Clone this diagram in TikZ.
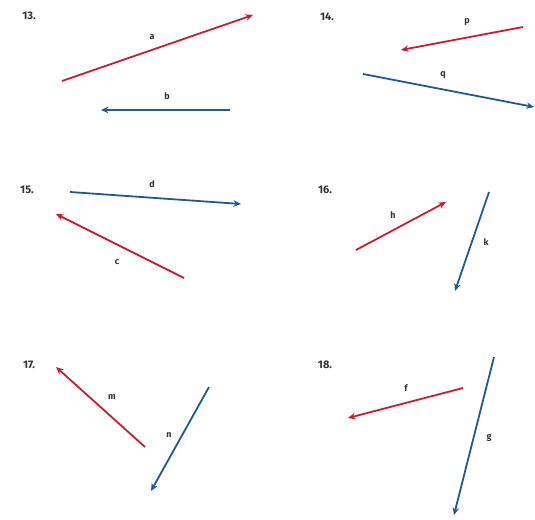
\documentclass[tikz,border=0pt]{standalone}
\usepackage{fontspec}
\setmainfont{Fira Sans}
\usetikzlibrary{arrows.meta}
\definecolor{vred}{RGB}{200,30,50}
\definecolor{vblue}{RGB}{30,90,150}
\tikzset{
  vec/.style={line width=1.8pt,-{Stealth[length=7.5pt,width=6.5pt]}},
  redvec/.style={vec,draw=vred},
  bluevec/.style={vec,draw=vblue},
  num/.style={font=\bfseries\fontsize{11}{11}\selectfont,text=black!80,inner sep=0pt},
  lbl/.style={font=\bfseries\fontsize{9}{9}\selectfont,text=black!80,inner sep=0pt},
}
\begin{document}
\begin{tikzpicture}[x=1pt,y=-1pt]
\useasboundingbox (0,0) rectangle (535,519);
% 13
\node[num] (n13) at (29,16) {13.};
\coordinate (a1) at (62,81); \coordinate (a2) at (253,15);
\draw[redvec] (a1) -- (a2);
\node[lbl] (la) at (152,37) {a};
\coordinate (b1) at (230,110); \coordinate (b2) at (101,110);
\draw[bluevec] (b1) -- (b2);
\node[lbl] (lb) at (167,96) {b};
% 14
\node[num] (n14) at (327,17) {14.};
\coordinate (p1) at (523,27); \coordinate (p2) at (401,50);
\draw[redvec] (p1) -- (p2);
\node[lbl] (lp) at (467,22) {p};
\coordinate (q1) at (363,74); \coordinate (q2) at (534,107);
\draw[bluevec] (q1) -- (q2);
\node[lbl] (lq) at (443,75) {q};
% 15
\node[num] (n15) at (27,190) {15.};
\coordinate (d1) at (70,192); \coordinate (d2) at (241,204);
\draw[bluevec] (d1) -- (d2);
\node[lbl] (ld) at (152,184) {d};
\coordinate (c1) at (184,278); \coordinate (c2) at (56,214);
\draw[redvec] (c1) -- (c2);
\node[lbl] (lc) at (117,262) {c};
% 16
\node[num] (n16) at (325,190) {16.};
\coordinate (h1) at (356,250); \coordinate (h2) at (446,202);
\draw[redvec] (h1) -- (h2);
\node[lbl] (lh) at (393,215) {h};
\coordinate (k1) at (489,192); \coordinate (k2) at (455,291);
\draw[bluevec] (k1) -- (k2);
\node[lbl] (lk) at (486,242) {k};
% 17
\node[num] (n17) at (29,365) {17.};
\coordinate (m1) at (145,447); \coordinate (m2) at (56,367);
\draw[redvec] (m1) -- (m2);
\node[lbl] (lm) at (112,397) {m};
\coordinate (nn1) at (209,387); \coordinate (nn2) at (151,491);
\draw[bluevec] (nn1) -- (nn2);
\node[lbl] (ln) at (169,435) {n};
% 18
\node[num] (n18) at (325,365) {18.};
\coordinate (f1) at (463,388); \coordinate (f2) at (348,418);
\draw[redvec] (f1) -- (f2);
\node[lbl] (lf) at (406,388) {f};
\coordinate (g1) at (494,357); \coordinate (g2) at (454,515);
\draw[bluevec] (g1) -- (g2);
\node[lbl] (lg) at (489,438) {g};
\end{tikzpicture}
\end{document}
